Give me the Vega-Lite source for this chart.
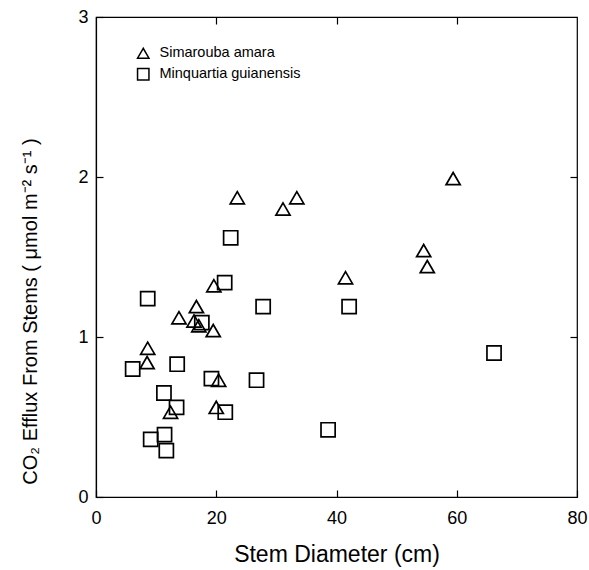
{
  "$schema": "https://vega.github.io/schema/vega-lite/v6.json",
  "width": 481,
  "height": 480,
  "autosize": {"type": "none"},
  "padding": {"left": 96, "top": 17, "right": 12, "bottom": 73},
  "background": "white",
  "config": {
    "view": {"stroke": "black", "strokeWidth": 1.2},
    "font": "Liberation Sans",
    "axis": {
      "grid": false,
      "domainColor": "black",
      "domainWidth": 1.2,
      "tickColor": "black",
      "tickWidth": 1.2,
      "tickSize": -7,
      "labelColor": "black",
      "labelFont": "Liberation Sans",
      "labelFontSize": 18,
      "titleFont": "Liberation Sans",
      "titleColor": "black",
      "titleFontWeight": "normal"
    }
  },
  "data": {
    "values": [
      {"d": 23.5, "e": 1.87, "species": "Simarouba amara"},
      {"d": 31.1, "e": 1.80, "species": "Simarouba amara"},
      {"d": 33.4, "e": 1.87, "species": "Simarouba amara"},
      {"d": 41.5, "e": 1.37, "species": "Simarouba amara"},
      {"d": 19.6, "e": 1.32, "species": "Simarouba amara"},
      {"d": 16.7, "e": 1.19, "species": "Simarouba amara"},
      {"d": 13.8, "e": 1.12, "species": "Simarouba amara"},
      {"d": 16.3, "e": 1.10, "species": "Simarouba amara"},
      {"d": 17.1, "e": 1.07, "species": "Simarouba amara"},
      {"d": 19.5, "e": 1.04, "species": "Simarouba amara"},
      {"d": 8.6, "e": 0.93, "species": "Simarouba amara"},
      {"d": 8.5, "e": 0.84, "species": "Simarouba amara"},
      {"d": 20.4, "e": 0.73, "species": "Simarouba amara"},
      {"d": 20.0, "e": 0.56, "species": "Simarouba amara"},
      {"d": 12.4, "e": 0.53, "species": "Simarouba amara"},
      {"d": 59.4, "e": 1.99, "species": "Simarouba amara"},
      {"d": 54.5, "e": 1.54, "species": "Simarouba amara"},
      {"d": 55.1, "e": 1.44, "species": "Simarouba amara"},
      {"d": 22.4, "e": 1.62, "species": "Minquartia guianensis"},
      {"d": 21.4, "e": 1.34, "species": "Minquartia guianensis"},
      {"d": 8.6, "e": 1.24, "species": "Minquartia guianensis"},
      {"d": 27.8, "e": 1.19, "species": "Minquartia guianensis"},
      {"d": 42.1, "e": 1.19, "species": "Minquartia guianensis"},
      {"d": 17.6, "e": 1.09, "species": "Minquartia guianensis"},
      {"d": 6.1, "e": 0.80, "species": "Minquartia guianensis"},
      {"d": 13.5, "e": 0.83, "species": "Minquartia guianensis"},
      {"d": 19.2, "e": 0.74, "species": "Minquartia guianensis"},
      {"d": 26.7, "e": 0.73, "species": "Minquartia guianensis"},
      {"d": 11.3, "e": 0.65, "species": "Minquartia guianensis"},
      {"d": 13.4, "e": 0.56, "species": "Minquartia guianensis"},
      {"d": 21.5, "e": 0.53, "species": "Minquartia guianensis"},
      {"d": 11.4, "e": 0.39, "species": "Minquartia guianensis"},
      {"d": 9.1, "e": 0.36, "species": "Minquartia guianensis"},
      {"d": 11.7, "e": 0.29, "species": "Minquartia guianensis"},
      {"d": 38.6, "e": 0.42, "species": "Minquartia guianensis"},
      {"d": 66.2, "e": 0.90, "species": "Minquartia guianensis"}
    ]
  },
  "layer": [
    {
      "mark": {"type": "point", "filled": false, "stroke": "black", "strokeWidth": 1.7, "size": 200, "opacity": 1},
      "encoding": {
        "x": {
          "field": "d", "type": "quantitative",
          "scale": {"domain": [0, 80], "nice": false, "zero": false},
          "axis": {"orient": "bottom", "values": [0, 20, 40, 60, 80], "title": "Stem Diameter (cm)", "titleFontSize": 23, "titleY": 64, "titleBaseline": "alphabetic", "labelPadding": 19, "labelFlush": false}
        },
        "y": {
          "field": "e", "type": "quantitative",
          "scale": {"domain": [0, 3], "nice": false, "zero": false},
          "axis": {"orient": "left", "values": [0, 1, 2, 3], "title": "CO₂ Efflux From Stems ( μmol m⁻² s⁻¹ )", "titleFontSize": 20, "titleX": -60, "titleY": 294, "titleAlign": "center", "titleBaseline": "alphabetic", "labelPadding": 15, "labelFlush": false}
        },
        "shape": {
          "field": "species", "type": "nominal",
          "scale": {"domain": ["Simarouba amara", "Minquartia guianensis"], "range": ["triangle-up", "square"]},
          "legend": {
            "title": null, "orient": "none", "legendX": 40, "legendY": 29,
            "labelFontSize": 14.5, "labelColor": "black", "labelFont": "Liberation Sans",
            "symbolSize": 130, "symbolStrokeColor": "black", "symbolStrokeWidth": 1.5, "symbolFillColor": "transparent",
            "rowPadding": 3, "labelOffset": 9, "padding": 0
          }
        }
      }
    },
    {
      "mark": {"type": "point", "opacity": 0},
      "encoding": {
        "x": {
          "field": "d", "type": "quantitative",
          "scale": {"domain": [0, 80], "nice": false, "zero": false},
          "axis": {"orient": "top", "values": [20, 40, 60], "labels": false, "title": null, "domain": false}
        },
        "y": {
          "field": "e", "type": "quantitative",
          "scale": {"domain": [0, 3], "nice": false, "zero": false},
          "axis": {"orient": "right", "values": [1, 2], "labels": false, "title": null, "domain": false}
        }
      }
    }
  ],
  "resolve": {"axis": {"x": "independent", "y": "independent"}}
}
